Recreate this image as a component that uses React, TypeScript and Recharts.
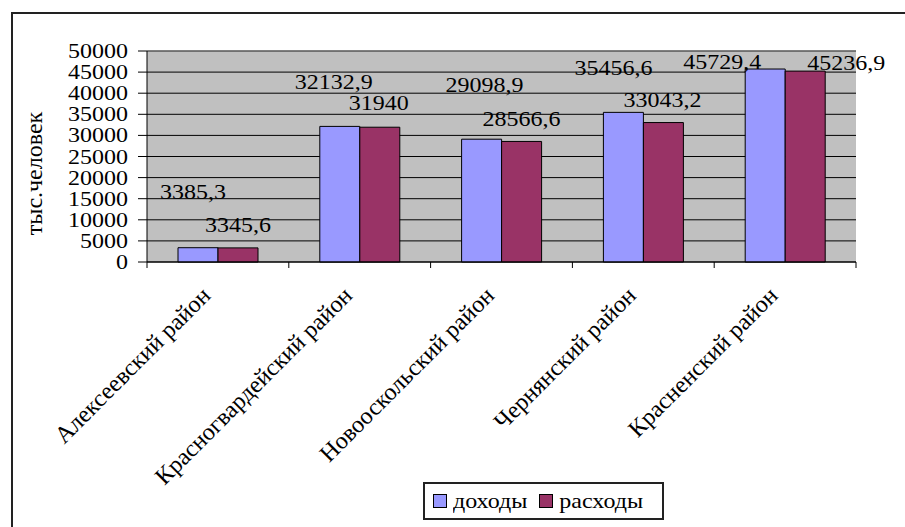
import { BarChart, Bar, XAxis, YAxis, CartesianGrid, LabelList, ReferenceLine } from 'recharts'

const districts = [
  'Алексеевский район',
  'Красногвардейский район',
  'Новооскольский район',
  'Чернянский район',
  'Красненский район',
]
const income = [3385.3, 32132.9, 29098.9, 35456.6, 45729.4]
const expenses = [3345.6, 31940, 28566.6, 33043.2, 45236.9]
const yTicks = [0, 5000, 10000, 15000, 20000, 25000, 30000, 35000, 40000, 45000, 50000]

// hand-placed value labels: horizontal nudge and lift above the bar top (px)
const incomeLabelDx = [-5, -6, 3, -10, -43]
const incomeLabelLift = [56, 44, 54, 44, 7]
const expenseLabelDx = [0, -1, 0, -1, 41]
const expenseLabelLift = [23, 24, 22, 23, 8]

const series = [
  { key: 'income', name: 'доходы', color: '#9999FF', dx: incomeLabelDx, lift: incomeLabelLift },
  { key: 'expenses', name: 'расходы', color: '#993366', dx: expenseLabelDx, lift: expenseLabelLift },
]

const data = districts.map((name, i) => ({ name, income: income[i], expenses: expenses[i] }))

const W = 905
const H = 527
const margin = { top: 51, right: 49, bottom: 235, left: 87 }
const Y_AXIS_W = 60
const X_AXIS_H = 30
const PLOT_W = W - margin.left - Y_AXIS_W - margin.right
const BAND = PLOT_W / districts.length
const FONT = "'Liberation Serif', 'Times New Roman', serif"
const SQUASH = 0.85
const textStyle = { fontFamily: FONT, fontSize: 24 }

const fmt = (v: number) => String(v).replace('.', ',')

function valueLabel(dxs: number[], lifts: number[]) {
  return (props: any) => {
    const { x, y, width, value, index } = props
    const cx = Number(x) + Number(width) / 2 + dxs[index]
    const cy = Number(y) - lifts[index]
    return (
      <text
        transform={`translate(${cx},${cy + 7}) scale(1,${SQUASH})`}
        textAnchor="middle"
        style={textStyle}
        fill="#000"
      >
        {fmt(Number(value))}
      </text>
    )
  }
}

function YTick(props: any) {
  const { x, y, payload } = props
  return (
    <text
      transform={`translate(${x},${y + 7}) scale(1,${SQUASH})`}
      textAnchor="end"
      style={textStyle}
      fill="#000"
    >
      {payload.value}
    </text>
  )
}

// category ticks sit on the band edges, labels hang off the band centre
function XTick(props: any) {
  const { x, y, payload, index } = props
  const half = BAND / 2
  return (
    <g>
      <line x1={x - half} x2={x - half} y1={y} y2={y + 6} stroke="#000" />
      {index === districts.length - 1 && <line x1={x + half} x2={x + half} y1={y} y2={y + 6} stroke="#000" />}
      <text
        transform={`translate(${x - 6},${y + 35}) rotate(-45)`}
        textAnchor="end"
        style={textStyle}
        fill="#000"
      >
        {payload.value}
      </text>
    </g>
  )
}

function YTitle(props: any) {
  const { viewBox } = props
  const cx = viewBox.x - 52
  const cy = viewBox.y + viewBox.height / 2 + 17
  return (
    <text
      transform={`translate(${cx + 7},${cy}) rotate(-90)`}
      textAnchor="middle"
      style={textStyle}
      fill="#000"
    >
      тыс.человек
    </text>
  )
}

export default function App() {
  return (
    <div
      style={{
        position: 'absolute',
        left: 0,
        top: 0,
        width: W,
        height: H,
        overflow: 'hidden',
        background: '#fff',
        fontFamily: FONT,
      }}
    >
      <div
        style={{
          position: 'absolute',
          left: 11,
          top: 12,
          width: W + 20,
          height: H + 20,
          border: '2px solid #222',
        }}
      />
      <div style={{ position: 'absolute', left: 0, top: 0 }}>
        <BarChart width={W} height={H} data={data} margin={margin} barGap={0} style={{ fontFamily: FONT }}>
          <CartesianGrid vertical={false} stroke="#000" fill="#C0C0C0" fillOpacity={1} />
          <XAxis
            dataKey="name"
            height={X_AXIS_H}
            axisLine={{ stroke: '#000' }}
            tickLine={false}
            tickSize={0}
            tickMargin={0}
            interval={0}
            tick={<XTick />}
          />
          <YAxis
            width={Y_AXIS_W}
            domain={[0, 50000]}
            ticks={yTicks}
            interval={0}
            axisLine={{ stroke: '#000' }}
            tickLine={{ stroke: '#000' }}
            tickSize={9}
            tickMargin={10}
            tick={<YTick />}
            label={<YTitle />}
          />
          <YAxis
            yAxisId="edge"
            orientation="right"
            width={0}
            domain={[0, 50000]}
            tick={false}
            tickLine={false}
            axisLine={{ stroke: '#808080' }}
          />
          <ReferenceLine y={50000} stroke="#808080" />
          {series.map((s) => (
            <Bar
              key={s.key}
              dataKey={s.key}
              name={s.name}
              fill={s.color}
              stroke="#000"
              strokeWidth={1}
              barSize={40}
              isAnimationActive={false}
            >
              <LabelList dataKey={s.key} content={valueLabel(s.dx, s.lift)} />
            </Bar>
          ))}
        </BarChart>
      </div>
      <div
        style={{
          position: 'absolute',
          left: 423,
          top: 482,
          width: 229,
          height: 34,
          border: '2px solid #222',
          background: '#fff',
          display: 'flex',
          alignItems: 'center',
          paddingLeft: 8,
          boxSizing: 'content-box',
        }}
      >
        {series.map((s) => (
          <div key={s.key} style={{ display: 'flex', alignItems: 'center', marginRight: 12 }}>
            <span
              style={{
                width: 12,
                height: 12,
                background: s.color,
                border: '1px solid #000',
                marginRight: 6,
                display: 'inline-block',
              }}
            />
            <span style={{ fontSize: 24, display: 'inline-block', transform: `scaleY(${SQUASH})`, lineHeight: 1 }}>
              {s.name}
            </span>
          </div>
        ))}
      </div>
    </div>
  )
}
